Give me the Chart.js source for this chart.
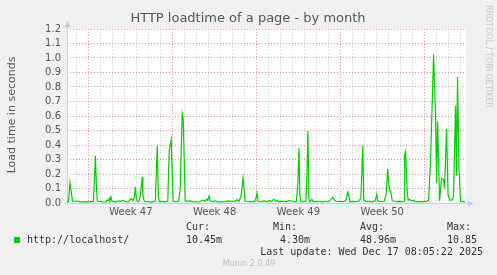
<!DOCTYPE html>
<html>
<head>
<meta charset="utf-8">
<script src="https://cdn.jsdelivr.net/npm/chart.js@4/dist/chart.umd.min.js"></script>
<style>
  html, body { margin: 0; padding: 0; background: #f0f0f0; overflow: hidden; }
  canvas { display: block; }
</style>
</head>
<body>
<canvas id="chart" width="497" height="275"></canvas>
<script>
// hours since the start of the month window (2 hours per pixel, like munin)
const hours = [0, 3, 6, 8, 11, 22, 26, 34, 38, 42, 46, 50, 53, 57, 59, 61, 68, 72, 78, 80, 82, 85, 86, 88, 90, 94,
  100, 104, 108, 112, 116, 122, 126, 129, 132, 135, 137, 139, 141, 144, 147, 151, 152, 155, 162, 168, 174, 177, 181, 183, 185,
  192, 198, 202, 205, 209, 211, 213, 218, 224, 227, 231, 233, 237, 239, 246, 252, 258, 266, 272, 276, 280, 282, 285, 287, 292,
  298, 302, 310, 318, 322, 330, 336, 341, 345, 349, 353, 355, 357, 366, 376, 379, 381, 383, 390, 396, 400, 406, 410, 415, 418,
  422, 426, 432, 440, 446, 450, 456, 460, 463, 465, 467, 469, 474, 479, 481, 483, 485, 487, 491, 494, 500, 506, 512, 518, 524,
  528, 533, 536, 540, 548, 554, 559, 563, 565, 567, 576, 584, 589, 591, 593, 595, 600, 606, 612, 618, 621, 623, 628, 636, 640,
  643, 645, 647, 649, 652, 658, 664, 668, 672, 676, 677, 679, 682, 684, 687, 691, 694, 698, 706, 714, 720, 725, 729, 735, 737,
  739, 741, 743, 747, 751, 755, 757, 761, 764, 768, 772, 775, 779, 781, 783, 786, 789, 794, 798];
const loadtime = [0.01, 0.01, 0.14, 0.09, 0.012, 0.012, 0.008, 0.008, 0.01, 0.006, 0.01, 0.01, 0.012, 0.325, 0.1, 0.012, 0.01, 0.007, 0.008, 0.02, 0.015, 0.032, 0.018, 0.043, 0.012, 0.01,
  0.008, 0.015, 0.012, 0.018, 0.012, 0.006, 0.02, 0.03, 0.015, 0.04, 0.11, 0.03, 0.012, 0.01, 0.05, 0.18, 0.06, 0.012, 0.01, 0.006, 0.01, 0.012, 0.395, 0.05, 0.01,
  0.01, 0.008, 0.012, 0.36, 0.435, 0.2, 0.012, 0.01, 0.012, 0.1, 0.615, 0.58, 0.02, 0.01, 0.014, 0.01, 0.008, 0.007, 0.02, 0.012, 0.025, 0.018, 0.048, 0.015, 0.01,
  0.015, 0.008, 0.008, 0.01, 0.014, 0.012, 0.01, 0.022, 0.012, 0.05, 0.172, 0.1, 0.012, 0.01, 0.01, 0.03, 0.07, 0.012, 0.01, 0.014, 0.008, 0.016, 0.01, 0.027, 0.012,
  0.016, 0.008, 0.012, 0.01, 0.018, 0.012, 0.008, 0.012, 0.15, 0.378, 0.05, 0.01, 0.01, 0.012, 0.2, 0.497, 0.03, 0.008, 0.025, 0.01, 0.01, 0.012, 0.006, 0.012, 0.008,
  0.02, 0.039, 0.02, 0.012, 0.01, 0.01, 0.015, 0.075, 0.05, 0.01, 0.01, 0.012, 0.03, 0.2, 0.395, 0.02, 0.01, 0.012, 0.008, 0.015, 0.06, 0.015, 0.01, 0.012, 0.06,
  0.235, 0.13, 0.09, 0.085, 0.015, 0.012, 0.01, 0.01, 0.01, 0.012, 0.33, 0.355, 0.08, 0.02, 0.025, 0.015, 0.02, 0.01, 0.01, 0.01, 0.01, 0.02, 0.3, 1.025, 0.81,
  0.6, 0.14, 0.56, 0.015, 0.17, 0.16, 0.1, 0.51, 0.055, 0.02, 0.02, 0.05, 0.67, 0.19, 0.87, 0.24, 0.01, 0.01, 0.01];

const yTicks = [0, 0.1, 0.2, 0.3, 0.4, 0.5, 0.6, 0.7, 0.8, 0.9, 1.0, 1.1, 1.2];
const weekLabels = ['Week 47', 'Week 48', 'Week 49', 'Week 50'];
const firstDayLine = 20;   // hours
const firstWeekLine = 44;  // hours (monday 00:00)
const spanHours = 800;

const seriesName = 'http://localhost/';
const statNames = ['Cur:', 'Min:', 'Avg:', 'Max:'];
const statValues = ['10.45m', '4.30m', '48.96m', '10.85'];
const lastUpdate = 'Last update: Wed Dec 17 08:05:22 2025';

const green = '#00cc00';
const axisBlue = '#c8c8f0';

// background, arrows and all the munin texts
const muninDecor = {
    id: 'muninDecor',
    beforeDraw(chart) {
        const { ctx, chartArea: a } = chart;
        ctx.save();
        ctx.fillStyle = '#f0f0f0';
        ctx.fillRect(0, 0, chart.width, chart.height);
        ctx.fillStyle = '#ffffff';
        ctx.fillRect(a.left, a.top, a.right - a.left, a.bottom - a.top);
        ctx.restore();
    },
    beforeDatasetsDraw(chart) {
        const { ctx, chartArea: a } = chart;
        ctx.save();
        ctx.strokeStyle = axisBlue;
        ctx.fillStyle = axisBlue;
        ctx.lineWidth = 1;
        ctx.beginPath();
        ctx.moveTo(a.left + 0.5, a.bottom + 2);
        ctx.lineTo(a.left + 0.5, a.top - 4);
        ctx.moveTo(a.left - 2, a.bottom + 0.5);
        ctx.lineTo(a.right + 4, a.bottom + 0.5);
        ctx.stroke();
        // arrow heads
        ctx.beginPath();
        ctx.moveTo(a.left + 0.5, a.top - 8);
        ctx.lineTo(a.left - 2.5, a.top - 2);
        ctx.lineTo(a.left + 3.5, a.top - 2);
        ctx.fill();
        ctx.beginPath();
        ctx.moveTo(a.right + 8, a.bottom + 0.5);
        ctx.lineTo(a.right + 2, a.bottom - 2.5);
        ctx.lineTo(a.right + 2, a.bottom + 3.5);
        ctx.fill();
        ctx.restore();
    },
    afterDraw(chart) {
        const { ctx } = chart;
        ctx.save();
        ctx.fillStyle = '#555555';
        ctx.font = '13px "DejaVu Sans"';
        ctx.textAlign = 'center';
        ctx.textBaseline = 'middle';
        ctx.fillText('HTTP loadtime of a page - by month', 248, 19);

        // y axis title
        ctx.save();
        ctx.translate(12, 115);
        ctx.rotate(-Math.PI / 2);
        ctx.font = '11px "DejaVu Sans"';
        ctx.fillText('Load time in seconds', 0, 0);
        ctx.restore();

        // rrdtool credit
        ctx.save();
        ctx.translate(488, 5);
        ctx.rotate(Math.PI / 2);
        ctx.fillStyle = '#c4c4c4';
        ctx.font = '8px "DejaVu Sans"';
        ctx.textAlign = 'left';
        ctx.fillText('RRDTOOL / TOBI OETIKER', 0, 0);
        ctx.restore();

        // legend
        ctx.fillStyle = green;
        ctx.fillRect(14, 237, 6, 6);
        ctx.fillStyle = '#333333';
        ctx.font = '10px "DejaVu Sans Mono"';
        ctx.textAlign = 'left';
        ctx.fillText(seriesName, 27, 240);
        const nameX = [186, 273, 360, 447];
        const valX = [186, 280, 360, 447];
        statNames.forEach((n, i) => {
            ctx.fillText(n, nameX[i], 227.5);
            ctx.fillText(statValues[i], valX[i], 240);
        });
        ctx.textAlign = 'right';
        ctx.fillText(lastUpdate, 483, 252);

        ctx.textAlign = 'center';
        ctx.fillStyle = '#bdbdbd';
        ctx.font = '8px "DejaVu Sans"';
        ctx.fillText('Munin 2.0.49', 249, 264);
        ctx.restore();
    }
};

const ctx = document.getElementById('chart').getContext('2d');
const chart = new Chart(ctx, {
    type: 'line',
    data: {
        datasets: [{
            label: seriesName,
            data: hours.map((h, i) => ({ x: h, y: loadtime[i] })),
            borderColor: green,
            borderWidth: 1.2,
            pointRadius: 0,
            tension: 0,
            fill: false,
            clip: 0
        }]
    },
    options: {
        responsive: false,
        animation: false,
        devicePixelRatio: 1,
        layout: { padding: { left: 0, top: 29, right: 31, bottom: 52 } },
        plugins: { legend: { display: false }, tooltip: { enabled: false }, title: { display: false } },
        scales: {
            x: {
                type: 'linear',
                min: 0,
                max: spanHours,
                afterFit: s => { s.height = 20; },
                afterBuildTicks: s => {
                    const t = [];
                    for (let h = firstDayLine; h < spanHours; h += 24) {
                        t.push({ value: h, kind: (h - firstWeekLine) % 168 === 0 ? 'major' : 'minor' });
                    }
                    weekLabels.forEach((w, i) => {
                        t.push({ value: firstWeekLine + 84 + i * 168, kind: 'label', text: w });
                    });
                    t.sort((p, q) => p.value - q.value);
                    s.ticks = t;
                },
                ticks: {
                    autoSkip: false,
                    maxRotation: 0,
                    padding: 3,
                    color: '#555555',
                    font: { family: 'DejaVu Sans', size: 10 },
                    callback: function (v, i) { const t = this.ticks[i]; return t && t.kind === 'label' ? t.text : ''; }
                },
                grid: {
                    drawTicks: false,
                    lineWidth: 1,
                    color: c => {
                        const k = c.tick && c.tick.kind;
                        if (k === 'major') return 'rgba(225,110,110,0.75)';
                        if (k === 'minor') return 'rgba(150,150,150,0.45)';
                        return 'rgba(0,0,0,0)';
                    }
                },
                border: { display: false, dash: [1, 2] }
            },
            y: {
                min: 0,
                max: 1.2,
                afterFit: s => { s.width = 67; },
                afterBuildTicks: s => { s.ticks = yTicks.map(v => ({ value: v })); },
                ticks: {
                    autoSkip: false,
                    padding: 6,
                    color: '#555555',
                    font: { family: 'DejaVu Sans', size: 10 },
                    callback: v => v.toFixed(1)
                },
                grid: {
                    drawTicks: false,
                    lineWidth: 1,
                    color: c => c.tick && c.tick.value === 0 ? 'rgba(0,0,0,0)' : 'rgba(225,110,110,0.75)'
                },
                border: { display: false, dash: [1, 2] }
            }
        }
    },
    plugins: [muninDecor]
});
</script>
</body>
</html>
